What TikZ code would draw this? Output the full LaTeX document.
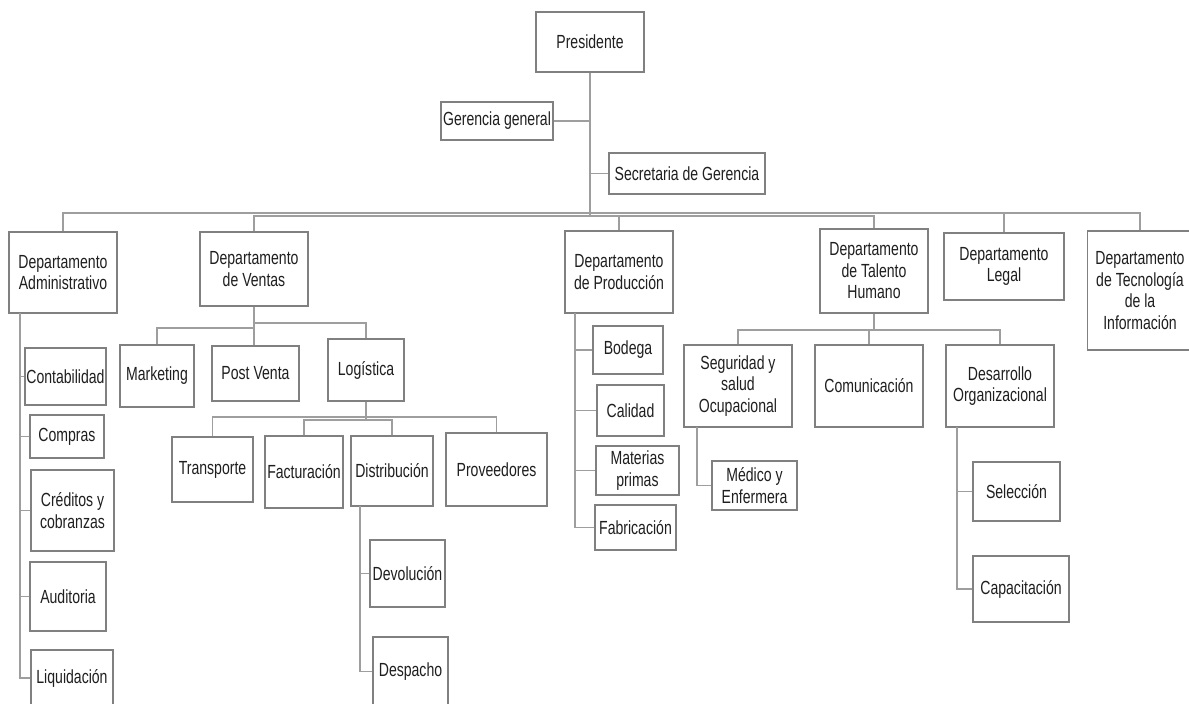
\documentclass[tikz,border=0pt]{standalone}
\usepackage{fontspec}
\setmainfont{Liberation Sans}[FakeStretch=0.74]
\begin{document}
\begin{tikzpicture}[x=1pt,y=-1pt,
  box/.style={draw=black!50,line width=1.2pt,fill=white,inner sep=1pt,align=center,
    text=black!88,font=\fontsize{19}{21.5}\selectfont},
  conn/.style={draw=black!38,line width=1.6pt}]
\useasboundingbox (0,0) rectangle (1189,704);
% top
\node[box,minimum width=108,minimum height=60] (pres) at (590,42) {Presidente};
\node[box,minimum width=112,minimum height=38] (gg) at (497,121) {Gerencia general};
\node[box,minimum width=156,minimum height=41] (sec) at (687,173.5) {Secretaria de Gerencia};
% departments
\node[box,minimum width=108,minimum height=81] (adm) at (63,272.5) {Departamento\\Administrativo};
\node[box,minimum width=108,minimum height=74] (ven) at (254,269) {Departamento\\de Ventas};
\node[box,minimum width=108,minimum height=82] (pro) at (619,272) {Departamento\\de Producción};
\node[box,minimum width=108,minimum height=84] (th) at (874,271) {Departamento\\de Talento\\Humano};
\node[box,minimum width=120,minimum height=67] (leg) at (1004,266.5) {Departamento\\Legal};
\node[box,minimum width=105,minimum height=119] (tec) at (1140,290.5) {Departamento\\de Tecnología\\de la\\Información};
% administrativo
\node[box,minimum width=81,minimum height=57] (con) at (65.5,376.5) {Contabilidad};
\node[box,minimum width=74,minimum height=43] (cmp) at (67,436.5) {Compras};
\node[box,minimum width=83,minimum height=81] (cre) at (72.5,510.5) {Créditos y\\cobranzas};
\node[box,minimum width=76,minimum height=69] (aud) at (68,596.5) {Auditoria};
\node[box,minimum width=82,minimum height=56] (liq) at (72,678) {Liquidación};
% ventas
\node[box,minimum width=74,minimum height=62] (mkt) at (157,376) {Marketing};
\node[box,minimum width=87,minimum height=55] (pv) at (255.5,373.5) {Post Venta};
\node[box,minimum width=76,minimum height=62] (log) at (366,370) {Logística};
\node[box,minimum width=81,minimum height=65] (tra) at (212.5,469.5) {Transporte};
\node[box,minimum width=78,minimum height=72] (fac) at (304,472) {Facturación};
\node[box,minimum width=82,minimum height=70] (dis) at (392,471) {Distribución};
\node[box,minimum width=101,minimum height=73] (prv) at (496.5,469.5) {Proveedores};
\node[box,minimum width=75,minimum height=67] (dev) at (407.5,573.5) {Devolución};
\node[box,minimum width=75,minimum height=69] (des) at (410.5,671.5) {Despacho};
% produccion
\node[box,minimum width=70,minimum height=48] (bod) at (628,350) {Bodega};
\node[box,minimum width=67,minimum height=51] (cal) at (630.5,410.5) {Calidad};
\node[box,minimum width=83,minimum height=49] (mat) at (637.5,470.5) {Materias\\primas};
\node[box,minimum width=81,minimum height=45] (fab) at (635.5,527.5) {Fabricación};
% talento humano
\node[box,minimum width=108,minimum height=82] (seg) at (738,386) {Seguridad y\\salud\\Ocupacional};
\node[box,minimum width=108,minimum height=82] (cmn) at (869,386) {Comunicación};
\node[box,minimum width=108,minimum height=82] (dor) at (1000,386) {Desarrollo\\Organizacional};
\node[box,minimum width=85,minimum height=49] (med) at (754.5,485.5) {Médico y\\Enfermera};
\node[box,minimum width=87,minimum height=59] (sel) at (1016.5,491.5) {Selección};
\node[box,minimum width=96,minimum height=66] (cap) at (1021,589) {Capacitación};
% coordinates
\coordinate (mb) at (590,213);
\coordinate (mb2) at (590,216);
\coordinate (admt) at (20,313);
\coordinate (vb) at (254,323);
\coordinate (vb2) at (254,328);
\coordinate (lb) at (366,417);
\coordinate (lb2) at (366,420);
\coordinate (dt) at (360,506);
\coordinate (prt) at (575,313);
\coordinate (tb) at (874,330);
\coordinate (sgt) at (697,427);
\coordinate (dot) at (957,427);
% connectors
\draw[conn] (pres.south) -- (mb2);
\draw[conn] (gg.east) -- (gg.east -| pres.south);
\draw[conn] (sec.west) -- (sec.west -| pres.south);
\draw[conn] (mb) -| (adm.north);
\draw[conn] (mb2) -| (ven.north);
\draw[conn] (mb2) -| (pro.north);
\draw[conn] (mb2) -| (th.north);
\draw[conn] (mb) -| (leg.north);
\draw[conn] (mb) -| (tec.north);
% admin
\draw[conn] (admt) |- (con.west);
\draw[conn] (admt) |- (cmp.west);
\draw[conn] (admt) |- (cre.west);
\draw[conn] (admt) |- (aud.west);
\draw[conn] (admt) |- (liq.west);
% ventas
\draw[conn] (ven.south) -- (vb2);
\draw[conn] (vb2) -| (mkt.north);
\draw[conn] (vb) -| (log.north);
\draw[conn] (vb) -- (vb |- pv.north);
\draw[conn] (log.south) -- (lb2);
\draw[conn] (lb) -| (tra.north);
\draw[conn] (lb2) -| (fac.north);
\draw[conn] (lb2) -| (dis.north);
\draw[conn] (lb) -| (prv.north);
\draw[conn] (dt) |- (dev.west);
\draw[conn] (dt) |- (des.west);
% produccion
\draw[conn] (prt) |- (bod.west);
\draw[conn] (prt) |- (cal.west);
\draw[conn] (prt) |- (mat.west);
\draw[conn] (prt) |- (fab.west);
% talento humano
\draw[conn] (th.south) -- (tb);
\draw[conn] (tb) -| (seg.north);
\draw[conn] (tb) -| (cmn.north);
\draw[conn] (tb) -| (dor.north);
\draw[conn] (sgt) |- (med.west);
\draw[conn] (dot) |- (sel.west);
\draw[conn] (dot) |- (cap.west);
\end{tikzpicture}
\end{document}
